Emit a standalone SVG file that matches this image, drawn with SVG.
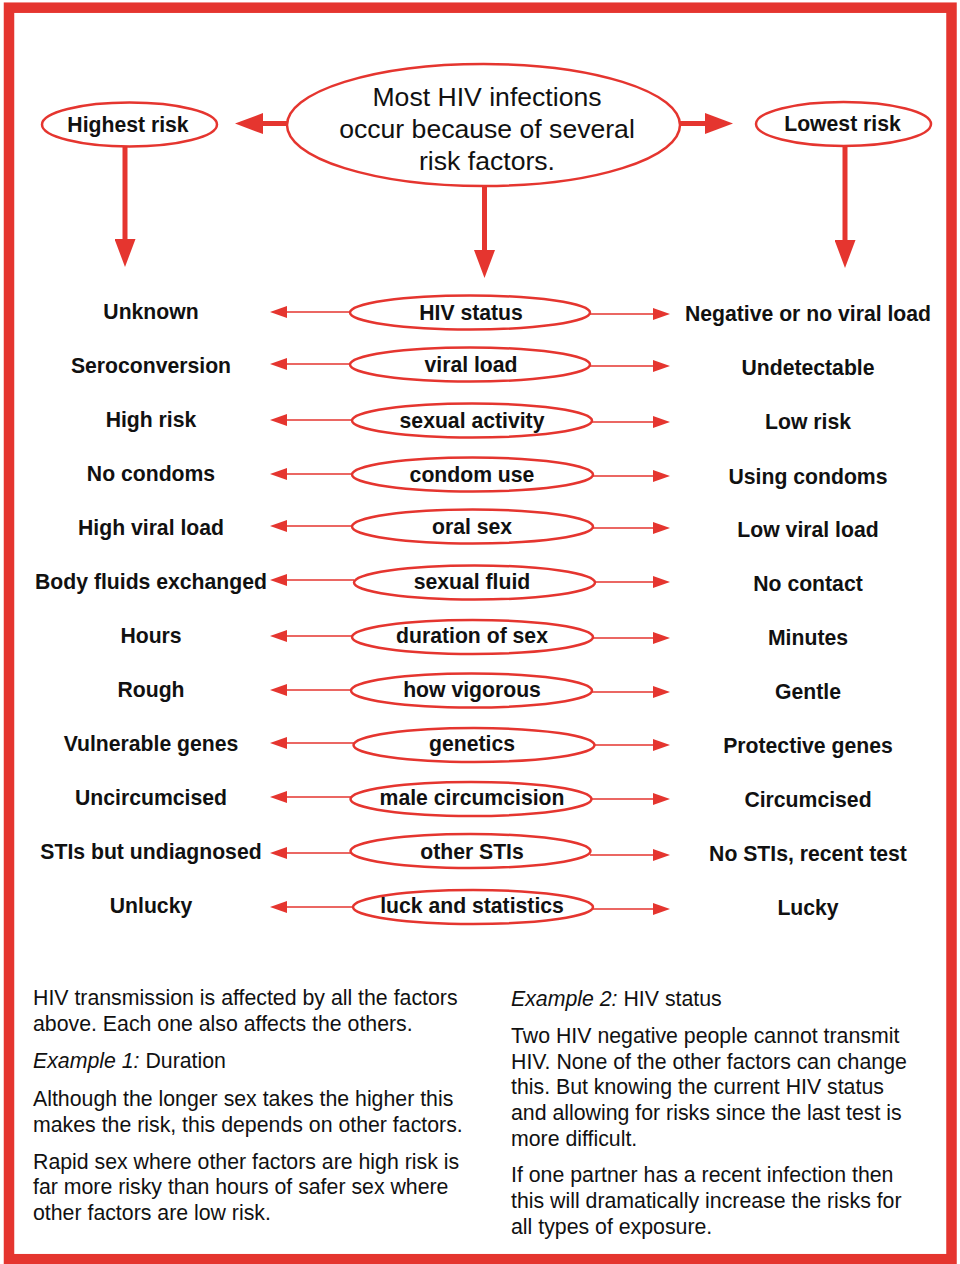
<svg xmlns="http://www.w3.org/2000/svg" width="960" height="1264" viewBox="0 0 960 1264">
<style>
.frame{fill:none;stroke:#e5352f;stroke-width:10.5}
.ell{fill:#fff;stroke:#e5352f;stroke-width:2.5}
.big{stroke:#e5352f;stroke-width:5;fill:none}
.thin{stroke:#e5352f;stroke-width:1.5;fill:none}
.b{font-family:"Liberation Sans",Arial,Helvetica,sans-serif;font-weight:bold;font-size:21.2px;fill:#111;text-anchor:middle}
.main{font-family:"Liberation Sans",Arial,Helvetica,sans-serif;font-size:26.6px;fill:#111;text-anchor:middle}
.p{font-family:"Liberation Sans",Arial,Helvetica,sans-serif;font-size:21.3px;fill:#111}
.i{font-style:italic}
</style>
<defs>
<marker id="bigHead" viewBox="0 0 28 21" refX="0" refY="10.5" markerWidth="28" markerHeight="21" markerUnits="userSpaceOnUse" orient="auto">
<path d="M0,0 L28,10.5 L0,21 z" fill="#e5352f"/>
</marker>
<marker id="smallHead" viewBox="0 0 17 12" refX="0" refY="6" markerWidth="17" markerHeight="12" markerUnits="userSpaceOnUse" orient="auto">
<path d="M0,0 L17,6 L0,12 z" fill="#e5352f"/>
</marker>
</defs>
<rect class="frame" x="9" y="7.7" width="942.5" height="1251.5"/>

<g id="connectors">
<line class="big" x1="288" y1="123.5" x2="263" y2="123.5" marker-end="url(#bigHead)"/>
<line class="big" x1="680" y1="123.5" x2="705" y2="123.5" marker-end="url(#bigHead)"/>
<line class="big" x1="125" y1="146" x2="125" y2="239" marker-end="url(#bigHead)"/>
<line class="big" x1="484.5" y1="185" x2="484.5" y2="250" marker-end="url(#bigHead)"/>
<line class="big" x1="845" y1="147" x2="845" y2="240" marker-end="url(#bigHead)"/>

<line class="thin" x1="350" y1="312" x2="287" y2="312" marker-end="url(#smallHead)"/>
<line class="thin" x1="590" y1="314" x2="653" y2="314" marker-end="url(#smallHead)"/>
<line class="thin" x1="350" y1="364" x2="287" y2="364" marker-end="url(#smallHead)"/>
<line class="thin" x1="590" y1="366" x2="653" y2="366" marker-end="url(#smallHead)"/>
<line class="thin" x1="352" y1="420" x2="287" y2="420" marker-end="url(#smallHead)"/>
<line class="thin" x1="592" y1="422" x2="653" y2="422" marker-end="url(#smallHead)"/>
<line class="thin" x1="352" y1="474" x2="287" y2="474" marker-end="url(#smallHead)"/>
<line class="thin" x1="593" y1="476" x2="653" y2="476" marker-end="url(#smallHead)"/>
<line class="thin" x1="352" y1="526" x2="287" y2="526" marker-end="url(#smallHead)"/>
<line class="thin" x1="593" y1="528" x2="653" y2="528" marker-end="url(#smallHead)"/>
<line class="thin" x1="354" y1="580" x2="287" y2="580" marker-end="url(#smallHead)"/>
<line class="thin" x1="595" y1="582" x2="653" y2="582" marker-end="url(#smallHead)"/>
<line class="thin" x1="352" y1="636" x2="287" y2="636" marker-end="url(#smallHead)"/>
<line class="thin" x1="593" y1="638" x2="653" y2="638" marker-end="url(#smallHead)"/>
<line class="thin" x1="351" y1="690" x2="287" y2="690" marker-end="url(#smallHead)"/>
<line class="thin" x1="592" y1="692" x2="653" y2="692" marker-end="url(#smallHead)"/>
<line class="thin" x1="354" y1="743" x2="287" y2="743" marker-end="url(#smallHead)"/>
<line class="thin" x1="595" y1="745" x2="653" y2="745" marker-end="url(#smallHead)"/>
<line class="thin" x1="351" y1="797" x2="287" y2="797" marker-end="url(#smallHead)"/>
<line class="thin" x1="592" y1="799" x2="653" y2="799" marker-end="url(#smallHead)"/>
<line class="thin" x1="351" y1="853" x2="287" y2="853" marker-end="url(#smallHead)"/>
<line class="thin" x1="590" y1="855" x2="653" y2="855" marker-end="url(#smallHead)"/>
<line class="thin" x1="353" y1="907" x2="287" y2="907" marker-end="url(#smallHead)"/>
<line class="thin" x1="593" y1="909" x2="653" y2="909" marker-end="url(#smallHead)"/>
</g>

<g id="node-main">
<ellipse class="ell" cx="483.5" cy="125" rx="196.5" ry="61"/>
<text class="main" x="487" y="106">Most HIV infections</text>
<text class="main" x="487" y="138">occur because of several</text>
<text class="main" x="487" y="170">risk factors.</text>
</g>
<g id="node-highest">
<ellipse class="ell" cx="129.5" cy="124.5" rx="87.5" ry="22"/>
<text class="b" x="128" y="131.5">Highest risk</text>
</g>
<g id="node-lowest">
<ellipse class="ell" cx="843.5" cy="124" rx="87.5" ry="22"/>
<text class="b" x="842.5" y="131">Lowest risk</text>
</g>

<g id="row-hiv-status">
<ellipse class="ell" cx="470" cy="312.5" rx="120" ry="17"/>
<text class="b" x="471" y="319.5">HIV status</text>
<text class="b" x="151" y="318.5">Unknown</text>
<text class="b" x="808" y="321">Negative or no viral load</text>
</g>
<g id="row-viral-load">
<ellipse class="ell" cx="470" cy="364.5" rx="120" ry="17"/>
<text class="b" x="471" y="371.5">viral load</text>
<text class="b" x="151" y="372.5">Seroconversion</text>
<text class="b" x="808" y="375">Undetectable</text>
</g>
<g id="row-sexual-activity">
<ellipse class="ell" cx="472" cy="420.5" rx="120" ry="17"/>
<text class="b" x="472" y="427.5">sexual activity</text>
<text class="b" x="151" y="426.5">High risk</text>
<text class="b" x="808" y="429">Low risk</text>
</g>
<g id="row-condom-use">
<ellipse class="ell" cx="472.5" cy="474.5" rx="120.5" ry="17"/>
<text class="b" x="472" y="481.5">condom use</text>
<text class="b" x="151" y="481">No condoms</text>
<text class="b" x="808" y="483.5">Using condoms</text>
</g>
<g id="row-oral-sex">
<ellipse class="ell" cx="472.5" cy="526.5" rx="120.5" ry="17"/>
<text class="b" x="472" y="534">oral sex</text>
<text class="b" x="151" y="535">High viral load</text>
<text class="b" x="808" y="537">Low viral load</text>
</g>
<g id="row-sexual-fluid">
<ellipse class="ell" cx="474.5" cy="582.5" rx="120.5" ry="17"/>
<text class="b" x="472" y="589">sexual fluid</text>
<text class="b" x="151" y="589">Body fluids exchanged</text>
<text class="b" x="808" y="591">No contact</text>
</g>
<g id="row-duration">
<ellipse class="ell" cx="472.5" cy="637" rx="120.5" ry="17"/>
<text class="b" x="472" y="643">duration of sex</text>
<text class="b" x="151" y="643">Hours</text>
<text class="b" x="808" y="645">Minutes</text>
</g>
<g id="row-vigorous">
<ellipse class="ell" cx="471.5" cy="690.5" rx="120.5" ry="17"/>
<text class="b" x="472" y="697">how vigorous</text>
<text class="b" x="151" y="697">Rough</text>
<text class="b" x="808" y="699">Gentle</text>
</g>
<g id="row-genetics">
<ellipse class="ell" cx="474" cy="745" rx="120.5" ry="17"/>
<text class="b" x="472" y="751">genetics</text>
<text class="b" x="151" y="751">Vulnerable genes</text>
<text class="b" x="808" y="753">Protective genes</text>
</g>
<g id="row-circumcision">
<ellipse class="ell" cx="471" cy="799" rx="120.5" ry="17"/>
<text class="b" x="472" y="805">male circumcision</text>
<text class="b" x="151" y="805">Uncircumcised</text>
<text class="b" x="808" y="807">Circumcised</text>
</g>
<g id="row-stis">
<ellipse class="ell" cx="470.5" cy="851" rx="120" ry="17"/>
<text class="b" x="472" y="859">other STIs</text>
<text class="b" x="151" y="859">STIs but undiagnosed</text>
<text class="b" x="808" y="861">No STIs, recent test</text>
</g>
<g id="row-luck">
<ellipse class="ell" cx="473" cy="907" rx="120" ry="17"/>
<text class="b" x="472" y="913">luck and statistics</text>
<text class="b" x="151" y="913">Unlucky</text>
<text class="b" x="808" y="915">Lucky</text>
</g>

<g id="text-left">
<text class="p" x="33" y="1005">HIV transmission is affected by all the factors</text>
<text class="p" x="33" y="1031">above. Each one also affects the others.</text>
<text class="p" x="33" y="1068"><tspan class="i">Example 1:</tspan> Duration</text>
<text class="p" x="33" y="1106">Although the longer sex takes the higher this</text>
<text class="p" x="33" y="1132">makes the risk, this depends on other factors.</text>
<text class="p" x="33" y="1169">Rapid sex where other factors are high risk is</text>
<text class="p" x="33" y="1194">far more risky than hours of safer sex where</text>
<text class="p" x="33" y="1220">other factors are low risk.</text>
</g>
<g id="text-right">
<text class="p" x="511" y="1006"><tspan class="i">Example 2:</tspan> HIV status</text>
<text class="p" x="511" y="1043">Two HIV negative people cannot transmit</text>
<text class="p" x="511" y="1069">HIV. None of the other factors can change</text>
<text class="p" x="511" y="1094">this. But knowing the current HIV status</text>
<text class="p" x="511" y="1120">and allowing for risks since the last test is</text>
<text class="p" x="511" y="1146">more difficult.</text>
<text class="p" x="511" y="1182">If one partner has a recent infection then</text>
<text class="p" x="511" y="1208">this will dramatically increase the risks for</text>
<text class="p" x="511" y="1234">all types of exposure.</text>
</g>
</svg>
